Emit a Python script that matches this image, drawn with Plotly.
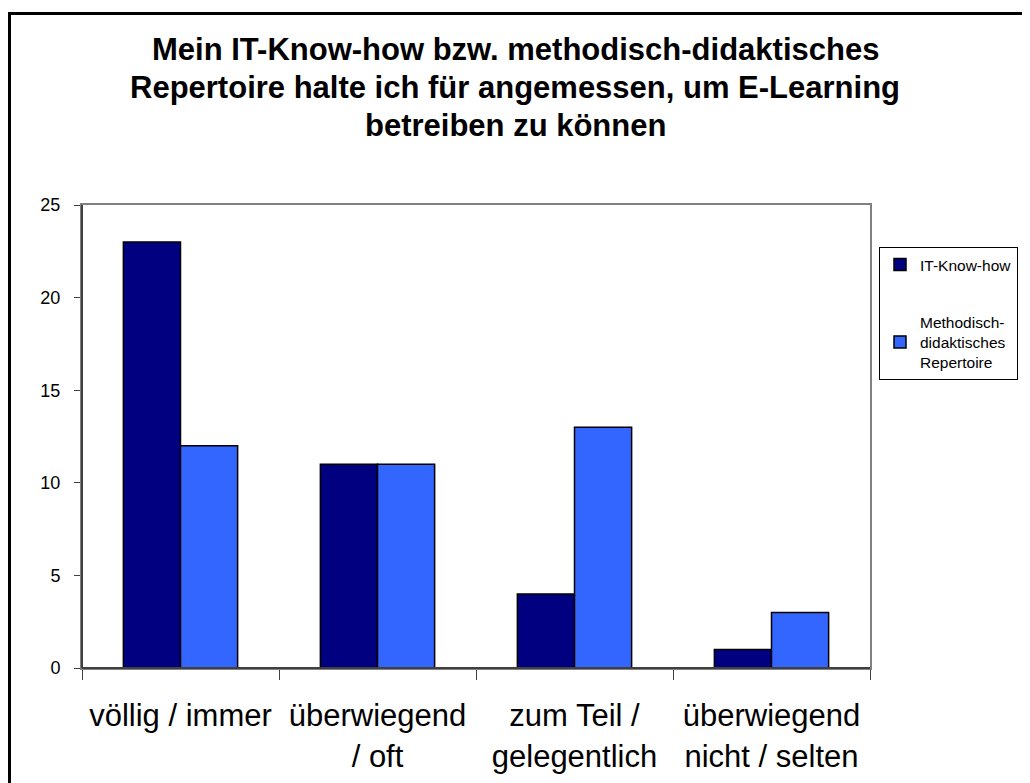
import plotly.graph_objects as go

categories = ["völlig / immer", "überwiegend<br>/ oft", "zum Teil /<br>gelegentlich", "überwiegend<br>nicht / selten"]
it_knowhow = [23, 11, 4, 1]
methodisch = [12, 11, 13, 3]
series_names = ["IT-Know-how", "Methodisch-<br>didaktisches<br>Repertoire"]
title_lines = ["Mein IT-Know-how bzw. methodisch-didaktisches",
               "Repertoire halte ich für angemessen, um E-Learning",
               "betreiben zu können"]

# page is offset by the 8px body margin
OFF = 8
W, H = 1022, 775
ml, mr, mt, mb = 82 - OFF, W - (870 - OFF), 205 - OFF, H - (668 - OFF)
pw, ph = W - ml - mr, H - mt - mb

def px_x(p):
    return (p - OFF - ml) / pw

def px_y(p):
    return (H - mb - (p - OFF)) / ph

fig = go.Figure()
fig.add_trace(go.Bar(x=categories, y=it_knowhow, name=series_names[0], legendgroup="a",
                     marker=dict(color="#000080", line=dict(color="black", width=1.5))))
fig.add_trace(go.Bar(x=categories, y=methodisch, name=series_names[1], legendgroup="b",
                     marker=dict(color="#3366FF", line=dict(color="black", width=1.5))))

font = "Liberation Sans, Arial, sans-serif"
fig.update_layout(
    width=W, height=H,
    margin=dict(l=ml, r=mr, t=mt, b=mb, autoexpand=False),
    paper_bgcolor="white", plot_bgcolor="white",
    barmode="group", bargap=0.42, bargroupgap=0,
    font=dict(family=font, color="black"),
    legend=dict(x=px_x(879), y=px_y(247), xanchor="left", yanchor="top",
                bordercolor="black", borderwidth=1, bgcolor="white",
                font=dict(size=15.5, family=font), itemwidth=30, tracegroupgap=34),
    showlegend=True,
)
for line_text, cy in zip(title_lines, [50, 88, 125]):
    fig.add_annotation(text="<b>" + line_text + "</b>", xref="paper", yref="paper",
                       x=px_x(515), y=px_y(cy), xanchor="center", yanchor="middle",
                       showarrow=False, font=dict(size=31, family=font, color="black"))
fig.update_xaxes(showline=True, linecolor="#808080", linewidth=2, mirror=True,
                 ticks="outside", tickson="boundaries", ticklen=10, tickcolor="#404040",
                 ticklabelstandoff=19, automargin=False,
                 tickfont=dict(size=31, family=font), showgrid=False)
fig.update_yaxes(range=[0, 25], dtick=5, showline=True, linecolor="#808080", linewidth=2, mirror=True,
                 ticks="outside", ticklen=6, tickcolor="#404040", ticklabelstandoff=10,
                 automargin=False,
                 tickfont=dict(size=18, family=font), showgrid=False, zeroline=False)
fig.add_shape(type="line", xref="paper", yref="paper", x0=0, x1=0, y0=0, y1=1,
              line=dict(color="#404040", width=2))
fig.add_shape(type="line", xref="paper", yref="paper", x0=0, x1=1, y0=0, y1=0,
              line=dict(color="#404040", width=2))
fig.add_shape(type="rect", xref="paper", yref="paper",
              x0=px_x(9.5), x1=px_x(1060), y0=px_y(13.5), y1=px_y(820),
              line=dict(color="black", width=3), layer="below")

fig.write_html("out.html")
